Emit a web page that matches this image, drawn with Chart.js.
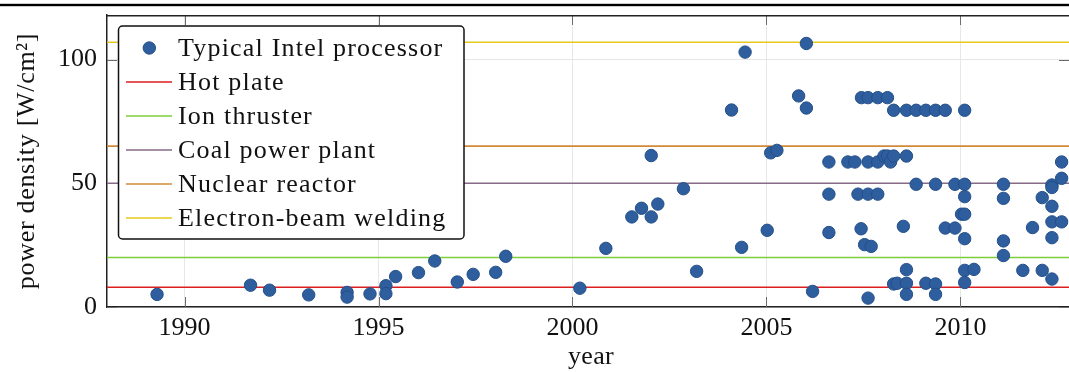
<!DOCTYPE html>
<html>
<head>
<meta charset="utf-8">
<script src="https://cdn.jsdelivr.net/npm/chart.js@4/dist/chart.umd.min.js"></script>
<style>
html,body{margin:0;padding:0;background:#fff;}
#wrap{width:1069px;height:372px;}
</style>
</head>
<body>
<div id="wrap"><canvas id="c" width="1069" height="372"></canvas></div>
<script>
// ---- data ----
const years = [
 1989.29,1991.70,1992.19,1993.20,1994.19,1994.19,1994.78,1995.19,1995.19,1995.44,
 1996.03,1996.45,1997.03,1997.44,1998.02,1998.28,2000.19,2000.86,2001.53,2001.78,
 2002.03,2002.03,2002.20,2002.86,2003.20,2004.10,2004.36,2004.45,2005.02,2005.11,
 2005.27,2005.83,2006.03,2006.03,2006.19,2006.61,2006.61,2006.61,2007.10,2007.28,
 2007.36,2007.44,2007.45,2007.53,2007.62,2007.62,2007.62,2007.62,2007.70,2007.87,
 2007.87,2007.87,2008.03,2008.12,2008.12,2008.20,2008.28,2008.28,2008.28,2008.37,
 2008.53,2008.61,2008.61,2008.61,2008.61,2008.61,2008.86,2008.86,2009.11,2009.11,
 2009.36,2009.36,2009.36,2009.36,2009.61,2009.61,2009.86,2009.86,2010.03,2010.11,
 2010.11,2010.11,2010.11,2010.11,2010.11,2010.11,2010.35,2011.11,2011.11,2011.11,
 2011.11,2011.61,2011.86,2012.11,2012.11,2012.36,2012.36,2012.36,2012.36,2012.36,
 2012.36,2012.61,2012.61,2012.61
];
const powerDensity = [
 5.1,8.8,6.8,4.9,5.9,4.0,5.3,8.6,5.4,12.3,
 13.9,18.6,10.1,13.2,14.0,20.5,7.6,23.7,36.4,39.9,
 36.4,61.2,41.6,47.8,14.4,79.6,24.1,103.0,31.0,62.3,
 63.3,85.3,106.5,80.4,6.3,58.6,45.6,30.1,58.6,58.6,
 45.6,31.6,84.6,25.2,84.6,58.6,45.6,3.6,24.5,84.6,
 58.6,45.6,61,61,84.6,58.6,61,79.5,9.3,9.6,
 32.6,61,79.5,15.1,9.6,5.1,79.5,49.6,79.5,9.6,
 79.5,49.6,9.3,5.1,79.5,31.9,49.6,31.9,37.5,79.5,
 49.6,44.6,37.5,27.6,14.8,9.9,15.2,49.6,43.9,26.7,
 20.8,14.8,32.1,44.2,14.8,49.3,48.3,40.7,34.4,28.0,
 11.3,58.6,52.0,34.4
];
const refNames  = ["Hot plate","Ion thruster","Coal power plant","Nuclear reactor","Electron-beam welding"];
const refValues = [8, 20, 50, 65, 107];
const refColors = ["#dd1f1f","#7ccf3a","#866a86","#d08a38","#e6c81e"];
const seriesName = "Typical Intel processor";
const xTitle = "year";
const yTitle = "power density [W/cm²]";
const xTickStep = 5, yTickStep = 50;
const xMin = 1988, xMax = 2012.8, yMin = 0, yMax = 118;

const FONT = "'Liberation Serif', 'DejaVu Serif', serif";
const FSIZE = 26;
const dotFill = "#2e5e9e", dotBorder = "#234f88";

const datasets = [{
  label: seriesName,
  type: 'scatter',
  data: years.map((x,i)=>({x:x, y:powerDensity[i]})),
  pointRadius: 6.2,
  pointBackgroundColor: dotFill,
  pointBorderColor: dotBorder,
  pointBorderWidth: 1,
  showLine: false,
  clip: 8
}];
refValues.forEach((v,i)=>{
  datasets.push({
    label: refNames[i],
    type: 'line',
    data: [{x:xMin,y:v},{x:xMax,y:v}],
    borderColor: refColors[i],
    borderWidth: 1.6,
    pointRadius: 0,
    fill: false
  });
});

function zeroPad(s){ s.paddingTop = 0; s.paddingBottom = 0; s.paddingLeft = 0; s.paddingRight = 0; }

const decorPlugin = {
  id: 'decor',
  beforeDatasetsDraw(chart){
    const ctx = chart.ctx, a = chart.chartArea;
    const xs = chart.scales.x, ys = chart.scales.y;
    ctx.save();
    ctx.strokeStyle = '#6b6b6b'; ctx.lineWidth = 1;
    xs.ticks.forEach(t=>{
      const px = Math.round(xs.getPixelForValue(t.value))+0.5;
      ctx.beginPath();
      ctx.moveTo(px, a.bottom); ctx.lineTo(px, a.bottom-10);
      ctx.moveTo(px, a.top); ctx.lineTo(px, a.top+10);
      ctx.stroke();
    });
    ys.ticks.forEach(t=>{
      const py = Math.round(ys.getPixelForValue(t.value))+0.5;
      ctx.beginPath();
      ctx.moveTo(a.left, py); ctx.lineTo(a.left+10, py);
      ctx.moveTo(a.right, py); ctx.lineTo(a.right-10, py);
      ctx.stroke();
    });
    ctx.restore();
  },
  afterDraw(chart){
    const ctx = chart.ctx, a = chart.chartArea;
    ctx.save();
    // top rule
    ctx.fillStyle = '#000';
    ctx.fillRect(0, 3.8, chart.width, 2.4);
    // top frame
    ctx.strokeStyle = '#222'; ctx.lineWidth = 1.5;
    ctx.beginPath(); ctx.moveTo(a.left, a.top+0.75); ctx.lineTo(a.right, a.top+0.75); ctx.stroke();

    // axis titles
    ctx.fillStyle = '#111';
    ctx.font = FSIZE + "px " + FONT;
    ctx.textBaseline = 'alphabetic';
    ctx.textAlign = 'center';
    ctx.letterSpacing = '0.3px';
    ctx.fillText(xTitle, (a.left + a.right)/2 + 3, 364);
    ctx.save();
    ctx.translate(34, (a.top + a.bottom)/2);
    ctx.rotate(-Math.PI/2);
    ctx.letterSpacing = '0.7px';
    ctx.fillText(yTitle, 0, 0);
    ctx.restore();

    // legend
    const bx = 118.5, by = 26, bw = 345.5, bh = 213, r = 4;
    ctx.fillStyle = '#fff';
    ctx.beginPath();
    ctx.roundRect(bx, by, bw, bh, r);
    ctx.fill();
    ctx.strokeStyle = '#111'; ctx.lineWidth = 1.5;
    ctx.stroke();
    ctx.font = FSIZE + "px " + FONT;
    ctx.textBaseline = 'alphabetic';
    ctx.textAlign = 'left';
    ctx.letterSpacing = '1.2px';
    chart.data.datasets.forEach((ds,i)=>{
      const cy = 48 + i*34;
      if (ds.type === 'scatter') {
        ctx.beginPath();
        ctx.arc(149.3, cy, 6.2, 0, Math.PI*2);
        ctx.fillStyle = ds.pointBackgroundColor; ctx.fill();
        ctx.strokeStyle = ds.pointBorderColor; ctx.lineWidth = 1; ctx.stroke();
      } else {
        ctx.beginPath();
        ctx.moveTo(126, cy); ctx.lineTo(172, cy);
        ctx.strokeStyle = ds.borderColor; ctx.lineWidth = 1.6; ctx.stroke();
      }
      ctx.fillStyle = '#111';
      ctx.fillText(ds.label, 178, cy + 7.5);
    });
    ctx.restore();
  }
};

new Chart(document.getElementById('c'), {
  data: { datasets },
  options: {
    responsive: false,
    devicePixelRatio: 1,
    animation: false,
    layout: { autoPadding: false, padding: { top: 15, left: 0, right: 0, bottom: 0 } },
    plugins: { legend: { display: false }, tooltip: { enabled: false } },
    scales: {
      x: {
        type: 'linear', position: 'bottom',
        min: xMin, max: xMax,
        grid: { color: '#e6e8e6', lineWidth: 1, drawTicks: false },
        border: { color: '#222', width: 1.5 },
        ticks: { stepSize: xTickStep, includeBounds: false, color: '#111', padding: 6,
                 font: { family: FONT, size: FSIZE }, maxRotation: 0,
                 callback: v => String(v) },
        title: { display: false },
        afterFit: s => { s.height = 65; zeroPad(s); }
      },
      y: {
        type: 'linear', position: 'left',
        min: yMin, max: yMax,
        grid: { color: '#e6e6e6', lineWidth: 1, drawTicks: false },
        border: { color: '#222', width: 1.5 },
        ticks: { stepSize: yTickStep, includeBounds: false, color: '#111', padding: 10,
                 font: { family: FONT, size: FSIZE } },
        title: { display: false },
        afterFit: s => { s.width = 107; zeroPad(s); }
      }
    }
  },
  plugins: [decorPlugin]
});
</script>
</body>
</html>
